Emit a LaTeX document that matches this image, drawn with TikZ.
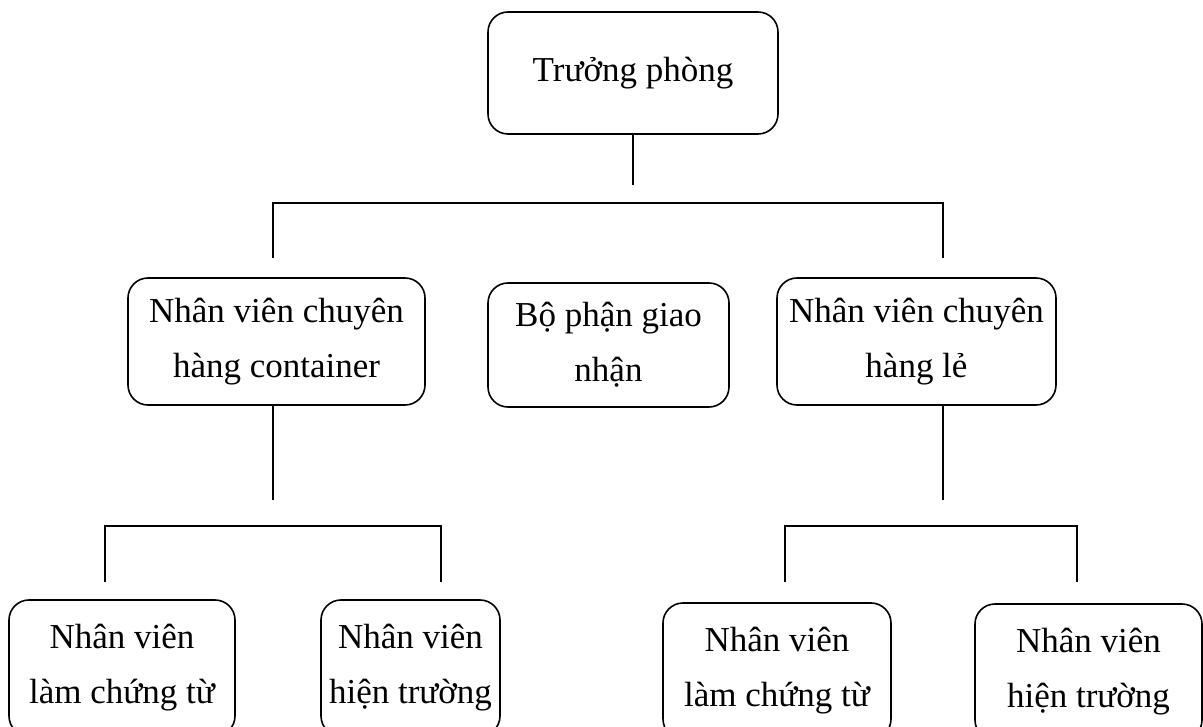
\documentclass[tikz,border=0pt]{standalone}
\usepackage{fontspec}
\setmainfont{Liberation Serif}
\usetikzlibrary{calc}

\begin{document}
\begin{tikzpicture}[x=1pt,y=-1pt,
    box/.style={draw,line width=1.6pt,rounded corners=20pt,align=center,inner sep=0pt,
      font=\fontsize{35}{55}\selectfont},
    link/.style={line width=1.6pt}]
  \useasboundingbox (0,0) rectangle (1203,727);
  \clip (0,0) rectangle (1203,727);

  % top box
  \node[box,minimum width=290pt,minimum height=122pt] (tp) at (633,73) {Trưởng phòng};

  % middle row
  \node[box,minimum width=297pt,minimum height=127pt] (nvc) at (276.5,341.5)
    {Nhân viên chuyên\\hàng container};
  \node[box,minimum width=241pt,minimum height=124pt] (bpgn) at (608.5,345)
    {Bộ phận giao\\nhận};
  \node[box,minimum width=279pt,minimum height=127pt] (nvl) at (916.5,341.5)
    {Nhân viên chuyên\\hàng lẻ};

  % bottom row
  \node[box,minimum width=226pt,minimum height=136pt] (ct1) at (122,668)
    {Nhân viên\\làm chứng từ};
  \node[box,minimum width=179pt,minimum height=136pt] (ht1) at (410.5,668)
    {Nhân viên\\hiện trường};
  \node[box,minimum width=228pt,minimum height=136pt] (ct2) at (777,671)
    {Nhân viên\\làm chứng từ};
  \node[box,minimum width=227pt,minimum height=136pt] (ht2) at (1088.5,672)
    {Nhân viên\\hiện trường};

  % connectors from the top box
  \coordinate (tpend) at (633,185);
  \coordinate (barL) at (273,203);
  \coordinate (barR) at (943,203);
  \coordinate (dropL) at (273,258);
  \coordinate (dropR) at (943,258);
  \draw[link] (tp) -- (tpend);
  \draw[link] (dropL) -- (barL) -- (barR) -- (dropR);

  % connectors under the container box
  \coordinate (nvcend) at (273,500);
  \coordinate (cbarL) at (105,526);
  \coordinate (cbarR) at (441,526);
  \coordinate (cdropL) at (105,582);
  \coordinate (cdropR) at (441,582);
  \draw[link] (nvc.south -| nvcend) -- (nvcend);
  \draw[link] (cdropL) -- (cbarL) -- (cbarR) -- (cdropR);

  % connectors under the second box
  \coordinate (nvlend) at (943,500);
  \coordinate (lbarL) at (785,526);
  \coordinate (lbarR) at (1077,526);
  \coordinate (ldropL) at (785,582);
  \coordinate (ldropR) at (1077,582);
  \draw[link] (nvl.south -| nvlend) -- (nvlend);
  \draw[link] (ldropL) -- (lbarL) -- (lbarR) -- (ldropR);
\end{tikzpicture}
\end{document}
